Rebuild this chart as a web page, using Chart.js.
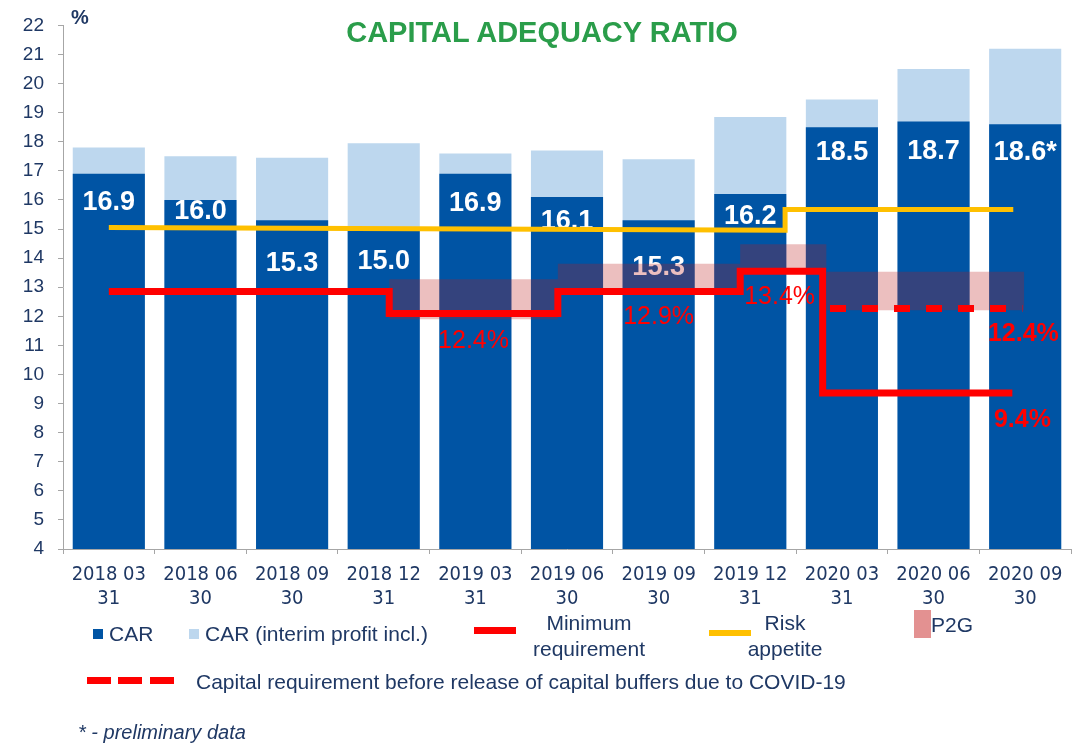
<!DOCTYPE html>
<html>
<head>
<meta charset="utf-8">
<title>Capital adequacy ratio</title>
<script src="https://cdn.jsdelivr.net/npm/chart.js@4.4.1/dist/chart.umd.min.js"></script>
<style>
    body { margin: 0; background: #fff; }
    #wrap { position: relative; width: 1081px; height: 745px; overflow: hidden;
            font-family: 'Liberation Sans', Arial, sans-serif; color: #1f3864; }
    #wrap canvas { position: absolute; left: 0; top: 0; }
    .t { position: absolute; white-space: nowrap; line-height: 1; font-size: 21px; }
    .sw { position: absolute; }
</style>
</head>
<body>
<div id="wrap">
    <canvas id="carCanvas" width="1081" height="745"></canvas>

    <div class="t" style="left:0; width:1084px; top:18px; text-align:center; font-size:29px; font-weight:bold; color:#2a9d4a;">CAPITAL ADEQUACY RATIO</div>
    <div class="t" style="left:71px; top:7px; font-size:20px; font-weight:bold;">%</div>

    <!-- legend -->
    <div class="sw" style="left:93px; top:629px; width:10px; height:10px; background:#0054a4;"></div>
    <div class="t" style="left:109px; top:623px;">CAR</div>
    <div class="sw" style="left:189px; top:629px; width:10px; height:10px; background:#bdd7ee;"></div>
    <div class="t" style="left:205px; top:623px;">CAR (interim profit incl.)</div>

    <div class="sw" style="left:474px; top:627px; width:42px; height:7px; background:#ff0000;"></div>
    <div class="t" style="left:489px; width:200px; top:610px; text-align:center; line-height:26px;">Minimum<br>requirement</div>

    <div class="sw" style="left:709px; top:630px; width:42px; height:6px; background:#ffc000;"></div>
    <div class="t" style="left:685px; width:200px; top:610px; text-align:center; line-height:26px;">Risk<br>appetite</div>

    <div class="sw" style="left:914px; top:610px; width:17px; height:28px; background:#e39191;"></div>
    <div class="t" style="left:931px; top:614px;">P2G</div>

    <div class="sw" style="left:87px; top:677px; width:24px; height:7px; background:#ff0000;"></div>
    <div class="sw" style="left:118px; top:677px; width:24px; height:7px; background:#ff0000;"></div>
    <div class="sw" style="left:150px; top:677px; width:24px; height:7px; background:#ff0000;"></div>
    <div class="t" style="left:196px; top:671px;">Capital requirement before release of capital buffers due to COVID-19</div>

    <div class="t" style="left:78px; top:722px; font-size:20px; font-style:italic;">* - preliminary data</div>
</div>

<script>
// quarter ends
var labels = [
    ['2018 03', '31'], ['2018 06', '30'], ['2018 09', '30'], ['2018 12', '31'],
    ['2019 03', '31'], ['2019 06', '30'], ['2019 09', '30'], ['2019 12', '31'],
    ['2020 03', '31'], ['2020 06', '30'], ['2020 09', '30']
];

// CAR and CAR with interim profit, %
var car = [16.9, 16.0, 15.3, 15.0, 16.9, 16.1, 15.3, 16.2, 18.5, 18.7, 18.6];
var carInterim = [17.8, 17.5, 17.45, 17.95, 17.6, 17.7, 17.4, 18.85, 19.45, 20.5, 21.2];
var carNote = ['', '', '', '', '', '', '', '', '', '', '*'];

// minimum requirement (step line, x in category units)
var minReqX = [0, 3.06, 3.06, 4.9, 4.9, 6.89, 6.89, 7.79, 7.79, 9.86];
var minReqY = [12.85, 12.85, 12.1, 12.1, 12.85, 12.85, 13.55, 13.55, 9.36, 9.36];

// risk appetite
var riskX = [0, 7.38, 7.38, 9.87];
var riskY = [15.05, 14.96, 15.67, 15.67];

// requirement before buffer release
var covidX = [7.87, 9.97];
var covidY = [12.27, 12.27];

// P2G band
var p2gX = [3.06, 4.9, 4.9, 6.89, 6.89, 7.83, 7.83, 9.99];
var p2gTop = [13.27, 13.27, 13.81, 13.81, 14.48, 14.48, 13.53, 13.53];
var p2gBottom = [11.9, 11.9, 12.85, 12.85, 13.6, 13.6, 12.21, 12.21];

// red requirement labels
var reqText = ['12.4%', '12.9%', '13.4%', '12.4%', '9.4%'];

var yMin = 4;
var yMax = 22;

var navy = '#1f3864';
var axisGrey = '#a6a6a6';

function pts(xs, ys) {
    var out = [];
    for (var i = 0; i < xs.length; i++) {
        out.push({ x: xs[i], y: ys[i] });
    }
    return out;
}

// label placement (pixels below top of CAR bar) and red note positions
var barLabelOffset = [29, 12, 43, 33, 30, 25, 47, 22, 25, 30, 28];
var reqNotes = [
    { x: 3.98, y: 11.15, bold: false },
    { x: 6.0, y: 11.97, bold: false },
    { x: 7.32, y: 12.66, bold: false },
    { x: 9.98, y: 11.39, bold: true },
    { x: 9.97, y: 8.43, bold: true }
];

var notesPlugin = {
    id: 'notes',
    afterDatasetDraw: function(chart, args) {
        if (args.index !== 0) return;
        var ctx = chart.ctx;
        ctx.save();
        ctx.fillStyle = '#ffffff';
        ctx.font = 'bold 27px "Liberation Sans", Arial, sans-serif';
        ctx.textAlign = 'center';
        ctx.textBaseline = 'middle';
        args.meta.data.forEach(function(bar, i) {
            ctx.fillText(car[i].toFixed(1) + carNote[i], bar.x, bar.y + barLabelOffset[i]);
        });
        ctx.restore();
    },
    afterDatasetsDraw: function(chart) {
        var ctx = chart.ctx;
        var sx = chart.scales.x2;
        var sy = chart.scales.y;
        ctx.save();
        ctx.fillStyle = '#ff0000';
        ctx.textAlign = 'center';
        ctx.textBaseline = 'middle';
        reqNotes.forEach(function(n, i) {
            ctx.font = (n.bold ? 'bold ' : '') + '25px "Liberation Sans", Arial, sans-serif';
            ctx.fillText(reqText[i], sx.getPixelForValue(n.x), sy.getPixelForValue(n.y));
        });
        ctx.restore();
    }
};

var ctx = document.getElementById('carCanvas');

var carChart = new Chart(ctx, {
    type: 'bar',
    data: {
        labels: labels,
        datasets: [
            {
                label: 'CAR',
                data: car,
                backgroundColor: '#0054a4',
                barPercentage: 0.787,
                categoryPercentage: 1,
                grouped: false,
                stack: 'car',
                order: 10
            },
            {
                label: 'CAR (interim profit incl.)',
                data: carInterim,
                backgroundColor: '#bdd7ee',
                barPercentage: 0.787,
                categoryPercentage: 1,
                grouped: false,
                stack: 'car',
                order: 10
            },
            {
                type: 'line',
                label: 'P2G low',
                data: pts(p2gX, p2gBottom),
                xAxisID: 'x2',
                borderWidth: 0,
                pointRadius: 0,
                fill: false,
                order: 5
            },
            {
                type: 'line',
                label: 'P2G',
                data: pts(p2gX, p2gTop),
                xAxisID: 'x2',
                borderWidth: 0,
                pointRadius: 0,
                fill: '-1',
                backgroundColor: 'rgba(185,25,25,0.28)',
                order: 5
            },
            {
                type: 'line',
                label: 'Risk appetite',
                data: pts(riskX, riskY),
                xAxisID: 'x2',
                borderColor: '#ffc000',
                borderWidth: 5,
                pointRadius: 0,
                borderJoinStyle: 'miter',
                fill: false,
                order: 2
            },
            {
                type: 'line',
                label: 'Minimum requirement',
                data: pts(minReqX, minReqY),
                xAxisID: 'x2',
                borderColor: '#ff0000',
                borderWidth: 7,
                pointRadius: 0,
                borderJoinStyle: 'miter',
                fill: false,
                order: 1
            },
            {
                type: 'line',
                label: 'Capital requirement before release of capital buffers due to COVID-19',
                data: pts(covidX, covidY),
                xAxisID: 'x2',
                borderColor: '#ff0000',
                borderWidth: 7,
                borderDash: [16, 16],
                pointRadius: 0,
                fill: false,
                order: 1
            }
        ]
    },
    options: {
        responsive: false,
        animation: false,
        layout: { padding: { top: 25, right: 10, left: 0, bottom: 0 } },
        plugins: {
            legend: { display: false },
            tooltip: { enabled: false },
            title: { display: false }
        },
        scales: {
            x: {
                stacked: true,
                grid: { drawOnChartArea: false, tickLength: 5, color: axisGrey, offset: true },
                border: { color: axisGrey },
                ticks: {
                    color: navy,
                    font: { family: "'DejaVu Sans Condensed', 'DejaVu Sans', sans-serif", size: 20, lineHeight: 1.2 },
                    padding: 9,
                    maxRotation: 0,
                    autoSkip: false
                },
                afterFit: function(s) { s.height = 196; }
            },
            x2: {
                type: 'linear',
                display: false,
                offset: false,
                bounds: 'data',
                min: -0.5,
                max: 10.5
            },
            y: {
                stacked: false,
                min: yMin,
                max: yMax,
                grid: { drawOnChartArea: false, tickLength: 5, color: axisGrey },
                border: { color: axisGrey },
                ticks: {
                    stepSize: 1,
                    color: navy,
                    padding: 14,
                    font: { family: "'Liberation Sans', Arial, sans-serif", size: 19 }
                },
                afterFit: function(s) { s.width = 63; }
            }
        }
    },
    plugins: [notesPlugin]
});
</script>
</body>
</html>
